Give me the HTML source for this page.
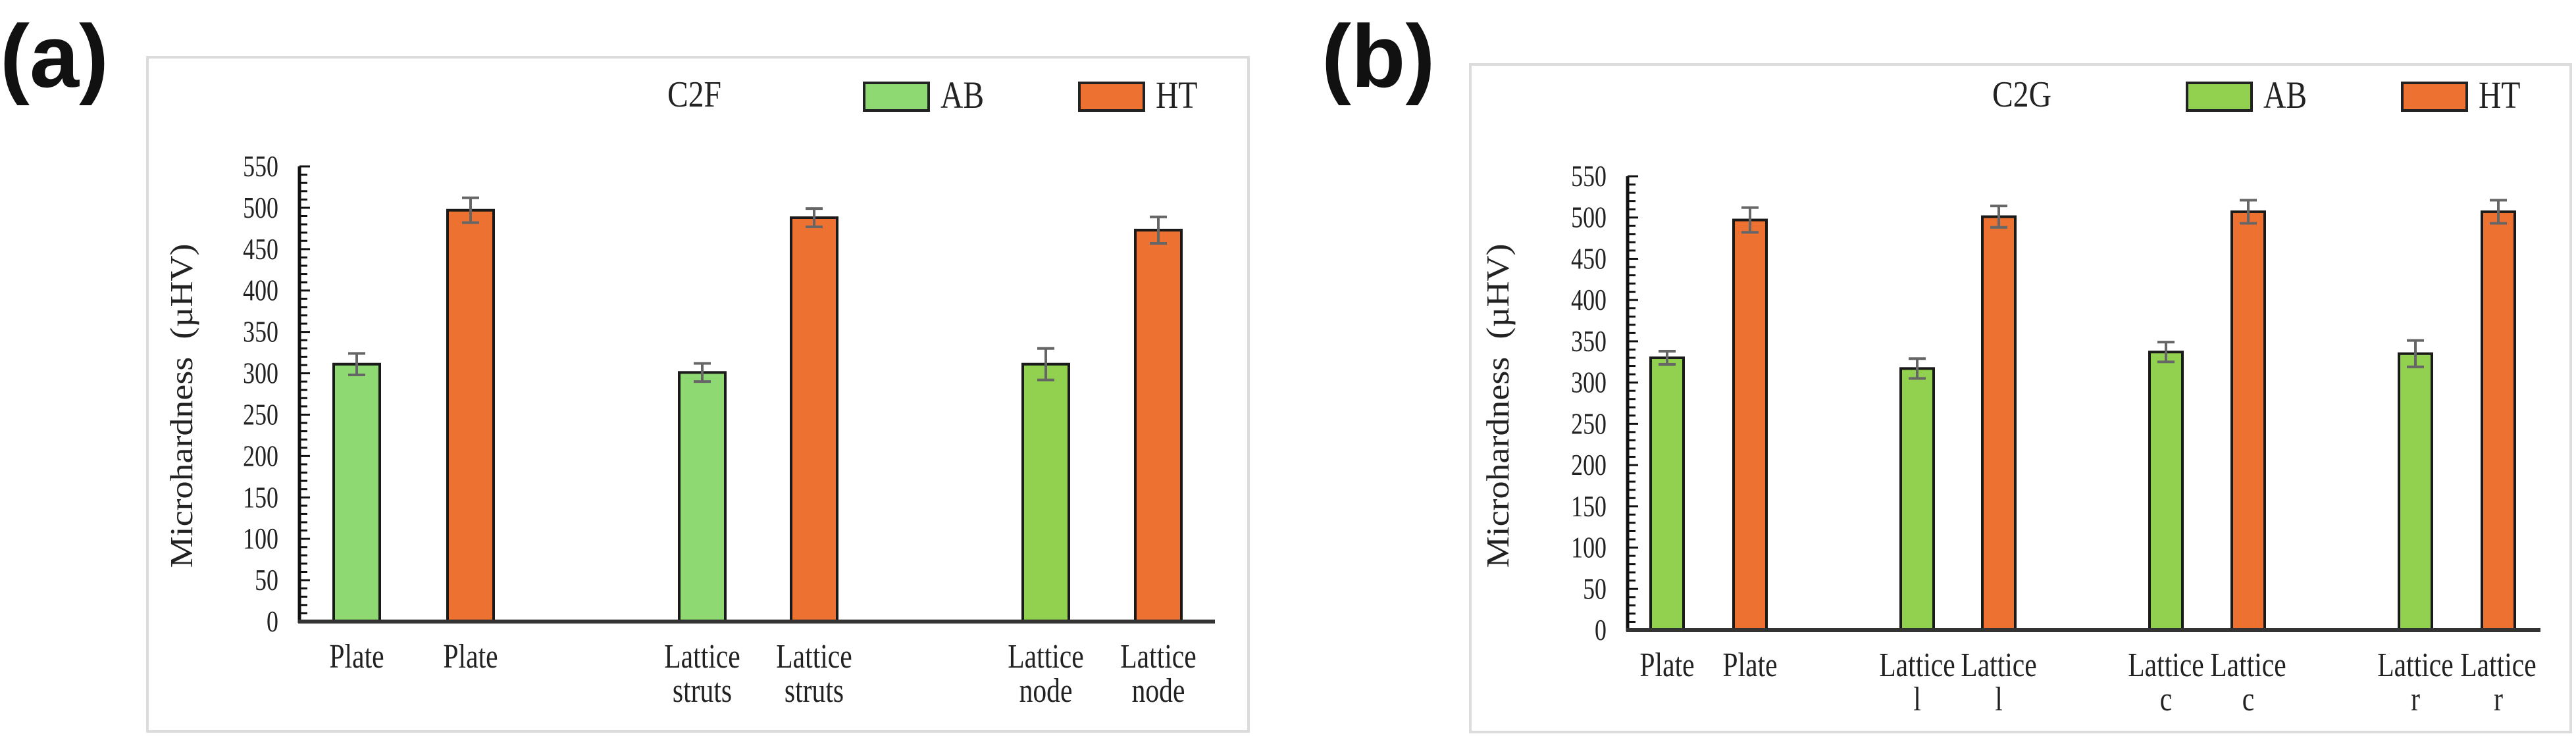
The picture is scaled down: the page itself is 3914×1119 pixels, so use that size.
<!DOCTYPE html>
<html><head><meta charset="utf-8"><style>
html,body{margin:0;padding:0;background:#fff;}
svg{display:block;}
text{font-family:"Liberation Serif",serif;fill:#222;}
.lbl{font-family:"Liberation Sans",sans-serif;font-weight:bold;fill:#111;}
</style></head><body>
<svg id="fig" width="3914" height="1119" viewBox="0 0 3914 1119" xmlns="http://www.w3.org/2000/svg">
<text class="lbl" x="0" y="132" font-size="135">(a)</text>
<text class="lbl" x="2008" y="132" font-size="135">(b)</text>
<g id="pa"></g>
<g id="pb"></g>
</svg>
<script>
// Panel (a) C2F data
const catsA = [["Plate"],["Plate"],["Lattice","struts"],["Lattice","struts"],["Lattice","node"],["Lattice","node"]];
const seriesA = ["AB","HT","AB","HT","AB","HT"];
const valuesA = [311, 497, 301, 488, 311, 473];
const errorsA = [13, 15, 11, 11, 19, 16];
// Panel (b) C2G data
const catsB = [["Plate"],["Plate"],["Lattice","l"],["Lattice","l"],["Lattice","c"],["Lattice","c"],["Lattice","r"],["Lattice","r"]];
const seriesB = ["AB","HT","AB","HT","AB","HT","AB","HT"];
const valuesB = [330, 497, 317, 501, 337, 507, 335, 507];
const errorsB = [8, 15, 12, 13, 12, 14, 16, 14];
const yTicks = [0,50,100,150,200,250,300,350,400,450,500,550];
const yMax = 550;

const NS = "http://www.w3.org/2000/svg";
function mk(parent, tag, attrs, txt){
  const e = document.createElementNS(NS, tag);
  for (const k in attrs) e.setAttribute(k, attrs[k]);
  if (txt !== undefined) e.textContent = txt;
  parent.appendChild(e);
  return e;
}

function draw(g, cfg, cats, series, values, errors){
  const fr = mk(g,'rect',{x:cfg.fx,y:cfg.fy,width:cfg.fw,height:cfg.fh,fill:'#fff',stroke:'#dcdcdc','stroke-width':4});
  
  
  const y = v => cfg.y0 - (v / yMax) * (cfg.y0 - cfg.yTop);
  const t = mk(g,'text',{x:0,y:0,'font-size':56,'text-anchor':'middle',transform:`translate(${cfg.titleX},162) scale(0.85,1)`},cfg.title);
  
  
  const legs = [["AB",cfg.green,cfg.legAB],["HT",'#ed7232',cfg.legHT]];
  legs.forEach(L=>{
    const lg = mk(g,'g',{});
    
    
    mk(lg,'rect',{x:L[2],y:126,width:98,height:42,fill:L[1],stroke:'#222','stroke-width':4});
    mk(lg,'text',{x:0,y:0,'font-size':58,transform:`translate(${L[2]+116},164) scale(0.82,1)`},L[0]);
  });
  yTicks.forEach(v=>{
    const tx = mk(g,'text',{x:0,y:0,'font-size':46,'text-anchor':'end',transform:`translate(${cfg.ax-32},${y(v)+15}) scale(0.78,1)`},String(v));
    
    
  });
  for (let v=0; v<=yMax; v+=10){
    const len = (v%50===0)?16:12;
    mk(g,'line',{x1:cfg.ax,x2:cfg.ax+len,y1:y(v),y2:y(v),stroke:'#111','stroke-width':3});
  }
  const yt = mk(g,'text',{x:0,y:0,'font-size':54,'text-anchor':'middle',transform:`translate(${cfg.ytX},617) rotate(-90) scale(1,0.9)`},'Microhardness\u00a0\u00a0(\u00b5HV)');
  
  
  values.forEach((v,i)=>{
    const cx = cfg.barX[i];
    const fill = series[i]==="AB" ? (cfg.greenFor ? cfg.greenFor(i) : cfg.green) : '#ed7232';
    const b = mk(g,'rect',{x:cx-cfg.bw/2,y:y(v),width:cfg.bw,height:cfg.y0-y(v),fill:fill,stroke:'#1a1a1a','stroke-width':4});
    
    
    const e = errors[i];
    const eg = mk(g,'g',{stroke:'#666','stroke-width':4});
    
    
    mk(eg,'line',{x1:cx,x2:cx,y1:y(v+e),y2:y(v-e)});
    mk(eg,'line',{x1:cx-13,x2:cx+13,y1:y(v+e),y2:y(v+e)});
    mk(eg,'line',{x1:cx-13,x2:cx+13,y1:y(v-e),y2:y(v-e)});
    cats[i].forEach((s,j)=>{
      const xl = mk(g,'text',{x:0,y:0,'font-size':52,'text-anchor':'middle',transform:`translate(${cx},${cfg.y0+70+j*52}) scale(0.8,1)`},s);
      
      
    });
  });
  const ay = mk(g,'line',{x1:cfg.ax,x2:cfg.ax,y1:cfg.yTop,y2:cfg.y0+2,stroke:'#111','stroke-width':5});
  
  
  const axx = mk(g,'line',{x1:cfg.ax-2,x2:cfg.axEnd,y1:cfg.y0,y2:cfg.y0,stroke:'#333','stroke-width':6});
  
  
}

draw(document.getElementById('pa'),{
  fx:224,fy:87,fw:1673,fh:1025,title:'C2F',titleX:1055,legAB:1313,legHT:1640,
  ax:455,y0:945,yTop:253,axEnd:1846,ytX:292,bw:70,
  green:'#8fd972',greenFor:i=>i>=4?'#92d050':'#8fd972',
  barX:[542,715,1067,1237,1589,1760]
},catsA,seriesA,valuesA,errorsA);

draw(document.getElementById('pb'),{
  fx:2234,fy:98,fw:1672,fh:1015,title:'C2G',titleX:3072,legAB:3323,legHT:3650,
  ax:2473,y0:958,yTop:268,axEnd:3860,ytX:2292,bw:50,
  green:'#92d050',
  barX:[2533,2659,2913,3037,3291,3416,3670,3796]
},catsB,seriesB,valuesB,errorsB);
</script>
</body></html>
